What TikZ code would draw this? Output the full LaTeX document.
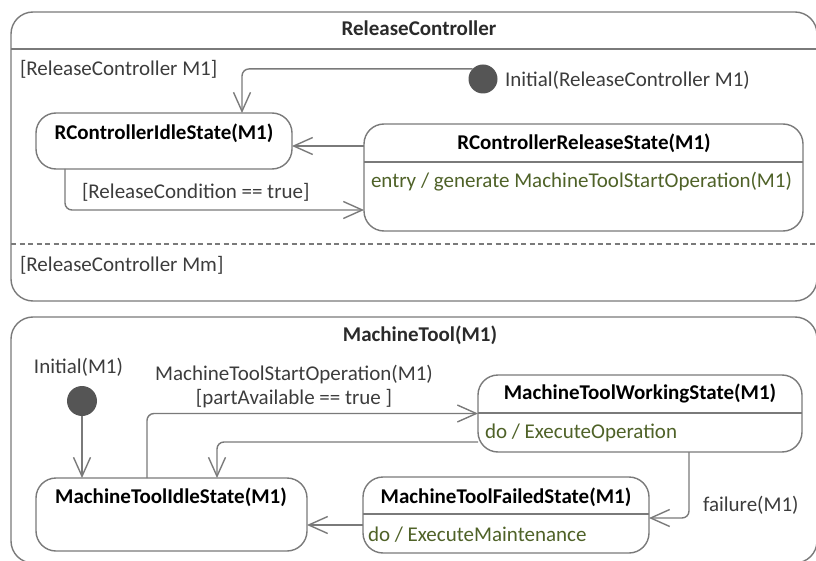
\documentclass[tikz,border=0pt]{standalone}
\usepackage{fontspec}
\setmainfont{Carlito}
\usetikzlibrary{arrows.meta}
\definecolor{edgegray}{HTML}{7A7A7A}
\definecolor{dotgray}{HTML}{555555}
\definecolor{labelgray}{HTML}{3C3C3C}
\definecolor{headgray}{HTML}{2A2A2A}
\definecolor{actgreen}{HTML}{4F6228}

\begin{document}
\begin{tikzpicture}[x=1pt,y=-1pt,
  every node/.style={inner sep=0pt,outer sep=0pt,font=\fontsize{21}{25}\selectfont},
  region/.style={draw=edgegray,line width=1.4pt,rounded corners=22pt},
  state/.style={draw=edgegray,line width=1.4pt,rounded corners=20pt,fill=white},
  sepline/.style={draw=edgegray,line width=1.4pt},
  trans/.style={draw=edgegray,line width=1.4pt,rounded corners=7pt,
    -{Straight Barb[length=19pt,width=17pt]}},
  initdot/.style={circle,fill=dotgray,minimum size=29pt},
  regiontitle/.style={font=\fontsize{21}{25}\selectfont\bfseries,text=headgray},
  statetitle/.style={font=\fontsize{21}{25}\selectfont\bfseries,text=black},
  guard/.style={text=labelgray},
  activity/.style={text=actgreen,anchor=west}
]
\useasboundingbox (0,0) rectangle (816,561);

% ---------------- ReleaseController region ----------------
\node[region,minimum width=806pt,minimum height=289pt] (rcbox) at (414,156.5) {};
\node[regiontitle] (rctitle) at (419,28) {ReleaseController};
\draw[sepline] ([yshift=-37pt]rcbox.north west) -- ([yshift=-37pt]rcbox.north east);
\draw[sepline,dash pattern=on 5pt off 3.5pt,line width=1.2pt]
  ([yshift=-232pt]rcbox.north west) -- ([yshift=-232pt]rcbox.north east);
\node[guard,anchor=west] (rcm1) at (20,69) {[ReleaseController M1]};
\node[guard,anchor=west] (rcmm) at (20,265) {[ReleaseController Mm]};

% states
\node[state,minimum width=256pt,minimum height=56pt] (rcidle) at (164,141) {};
\node[statetitle] (rcidlet) at (164,133) {RControllerIdleState(M1)};

\node[state,minimum width=439pt,minimum height=107pt] (rcrel) at (583.5,177.5) {};
\node[statetitle] (rcrelt) at (584,143) {RControllerReleaseState(M1)};
\draw[sepline] ([yshift=-38pt]rcrel.north west) -- ([yshift=-38pt]rcrel.north east);
\node[activity] (rcrela) at (371,182) {entry / generate MachineToolStartOperation(M1)};

% initial pseudostate
\node[initdot] (rcinit) at (483,79) {};
\node[guard,anchor=west] (rcinitl) at (505,80) {Initial(ReleaseController M1)};

% transitions
\draw[trans] (rcinit.136) -| ([xshift=78pt]rcidle.north);
\coordinate (rcback) at ([yshift=-5pt]rcidle.east);
\draw[trans] (rcrel.west |- rcback) -- (rcback);
\draw[trans] ([xshift=-99pt]rcidle.south) |- ([yshift=-32.5pt]rcrel.west);
\node[guard,anchor=west] (rcguard) at (82,192) {[ReleaseCondition == true]};

% ---------------- MachineTool region ----------------
\node[region,minimum width=806pt,minimum height=246pt] (mtbox) at (414,440) {};
\node[regiontitle] (mttitle) at (420,335) {MachineTool(M1)};

% states
\node[state,minimum width=271pt,minimum height=73pt] (mtidle) at (171.5,514.5) {};
\node[statetitle] (mtidlet) at (171,497) {MachineToolIdleState(M1)};

\node[state,minimum width=324pt,minimum height=77pt] (mtwork) at (640,413.5) {};
\node[statetitle] (mtworkt) at (640,393) {MachineToolWorkingState(M1)};
\draw[sepline] ([yshift=-38pt]mtwork.north west) -- ([yshift=-38pt]mtwork.north east);
\node[activity] (mtworka) at (485,433) {do / ExecuteOperation};

\node[state,minimum width=286pt,minimum height=76pt] (mtfail) at (506,515) {};
\node[statetitle] (mtfailt) at (506,497) {MachineToolFailedState(M1)};
\draw[sepline] ([yshift=-37pt]mtfail.north west) -- ([yshift=-37pt]mtfail.north east);
\node[activity] (mtfaila) at (368,535) {do / ExecuteMaintenance};

% initial pseudostate
\node[initdot,minimum size=30pt] (mtinit) at (82,401) {};
\node[guard] (mtinitl) at (78.5,367) {Initial(M1)};

% transitions
\draw[trans] (mtinit.south) -- (mtinit.south |- mtidle.north);
\draw[trans] ([xshift=-24.5pt]mtidle.north) |- (mtwork.west);
\node[guard] (mtstart) at (294,375) {MachineToolStartOperation(M1)};
\node[guard] (mtpart) at (294,399) {[partAvailable == true ]};
\draw[trans] ([yshift=-28.5pt]mtwork.west) -| ([xshift=45.5pt]mtidle.north);
\draw[trans] ([xshift=49pt]mtwork.south) |- ([yshift=-3pt]mtfail.east);
\node[guard,anchor=west] (mtfailure) at (703,505) {failure(M1)};
\coordinate (mtback) at ([yshift=-10.5pt]mtidle.east);
\draw[trans] (mtfail.west |- mtback) -- (mtback);
\end{tikzpicture}
\end{document}
